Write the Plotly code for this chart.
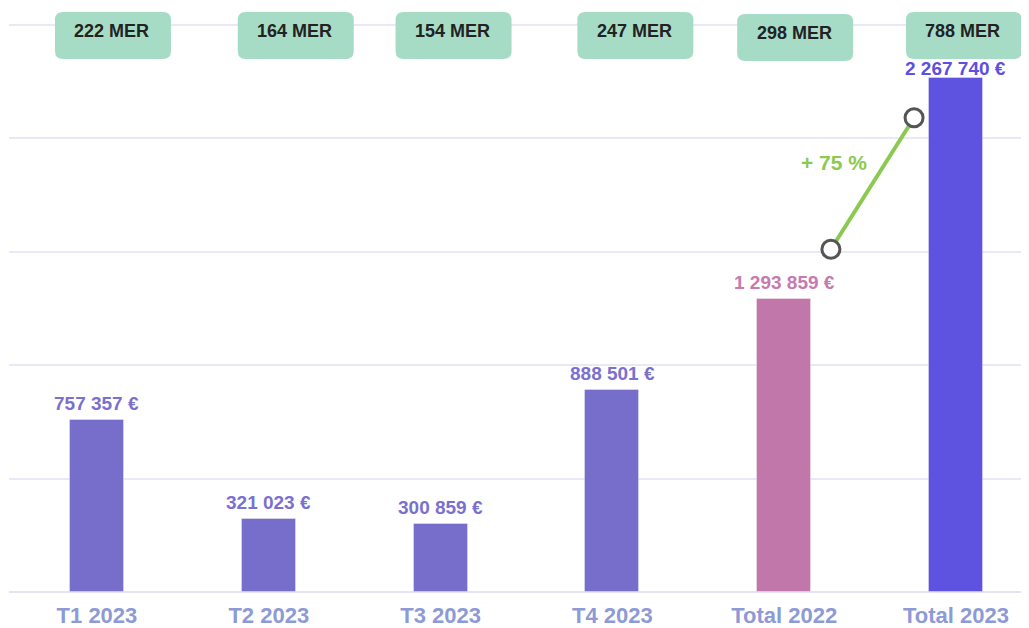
import plotly.graph_objects as go

# ---- data ----
categories = ["T1 2023", "T2 2023", "T3 2023", "T4 2023", "Total 2022", "Total 2023"]
values = [757357, 321023, 300859, 888501, 1293859, 2267740]
value_labels = ["757 357 €", "321 023 €", "300 859 €", "888 501 €", "1 293 859 €", "2 267 740 €"]
mer_labels = ["222 MER", "164 MER", "154 MER", "247 MER", "298 MER", "788 MER"]
connector_x = [4.272, 4.756]
connector_y = [1511000, 2091000]

# ---- styles ----
bar_colors = ["#776DCA", "#776DCA", "#776DCA", "#776DCA", "#C277AB", "#5E52E0"]
label_colors = ["#7A70D0", "#7A70D0", "#7A70D0", "#7A70D0", "#C77AAF", "#5D50E0"]
label_shift = [4, 4, 4, 4, 4, -3]
box_dx = [16, 27, 13, 23, 11, 8]      # pixel offset of box centres from bar centres
box_top = [4, 4, 4, 4, 6, 4]          # pixel below top of plot area
FONT = "Liberation Sans, Arial, sans-serif"
GREEN = "#8CC951"

W, H = 1021, 620
ml, mr, mt, mb = 1, 0, 0, 34
x_range = [-0.512, 5.425]
y_range = [0, 2574692]

n = len(categories)
xs = list(range(n))

fig = go.Figure()
fig.add_trace(go.Bar(
    x=xs, y=values, width=0.314,
    marker=dict(color=bar_colors, line=dict(color="rgba(255,255,255,0.35)", width=1)),
    hoverinfo="skip", showlegend=False,
))

pct = round((values[5] / values[4] - 1) * 100)
fig.add_trace(go.Scatter(
    x=connector_x, y=connector_y, mode="lines+markers",
    line=dict(color=GREEN, width=4),
    marker=dict(size=18, color="white", line=dict(color="#555555", width=3)),
    hoverinfo="skip", showlegend=False,
))

annotations = []
shapes = []
for i in range(n):
    annotations.append(dict(
        x=xs[i], y=values[i], xref="x", yref="y", text=f"<b>{value_labels[i]}</b>",
        showarrow=False, yanchor="bottom", yshift=label_shift[i],
        font=dict(family=FONT, size=19, color=label_colors[i]),
    ))
    w, h, r = 116, 47, 8
    x0, x1 = box_dx[i] - w / 2, box_dx[i] + w / 2
    y0, y1 = -box_top[i], -box_top[i] - h
    path = (f"M {x0 + r},{y0} L {x1 - r},{y0} Q {x1},{y0} {x1},{y0 - r} "
            f"L {x1},{y1 + r} Q {x1},{y1} {x1 - r},{y1} L {x0 + r},{y1} "
            f"Q {x0},{y1} {x0},{y1 + r} L {x0},{y0 - r} Q {x0},{y0} {x0 + r},{y0} Z")
    shapes.append(dict(
        type="path", path=path, xref="x", yref="paper",
        xsizemode="pixel", ysizemode="pixel", xanchor=xs[i], yanchor=1,
        fillcolor="#A6DCC6", line=dict(width=0), layer="above",
    ))
    annotations.append(dict(
        x=xs[i], y=1, xref="x", yref="paper", text=f"<b>{mer_labels[i]}</b>",
        showarrow=False, yanchor="middle", xshift=box_dx[i] - 1, yshift=-box_top[i] - 19,
        font=dict(family=FONT, size=18, color="#222222"),
    ))

annotations.append(dict(
    x=4.29, y=1893700, xref="x", yref="y", text=f"<b>+ {pct} %</b>",
    showarrow=False, font=dict(family=FONT, size=21, color=GREEN),
))

fig.update_layout(
    width=W, height=H,
    margin=dict(l=ml, r=mr, t=mt, b=mb),
    paper_bgcolor="white", plot_bgcolor="white",
    shapes=shapes, annotations=annotations,
    xaxis=dict(
        range=x_range, tickmode="array", tickvals=xs,
        ticktext=[f"<b>{c}</b>" for c in categories],
        tickfont=dict(family=FONT, size=22, color="#8D9AD5"),
        showgrid=False, zeroline=False, showline=False, ticks="",
        ticklabelstandoff=8,
    ),
    yaxis=dict(
        range=y_range, dtick=500000, showticklabels=False,
        gridcolor="#E8E8F6", gridwidth=1.5, zeroline=True,
        zerolinecolor="#E4E4F4", zerolinewidth=2,
    ),
    bargap=0,
)

fig.write_html("out.html")
